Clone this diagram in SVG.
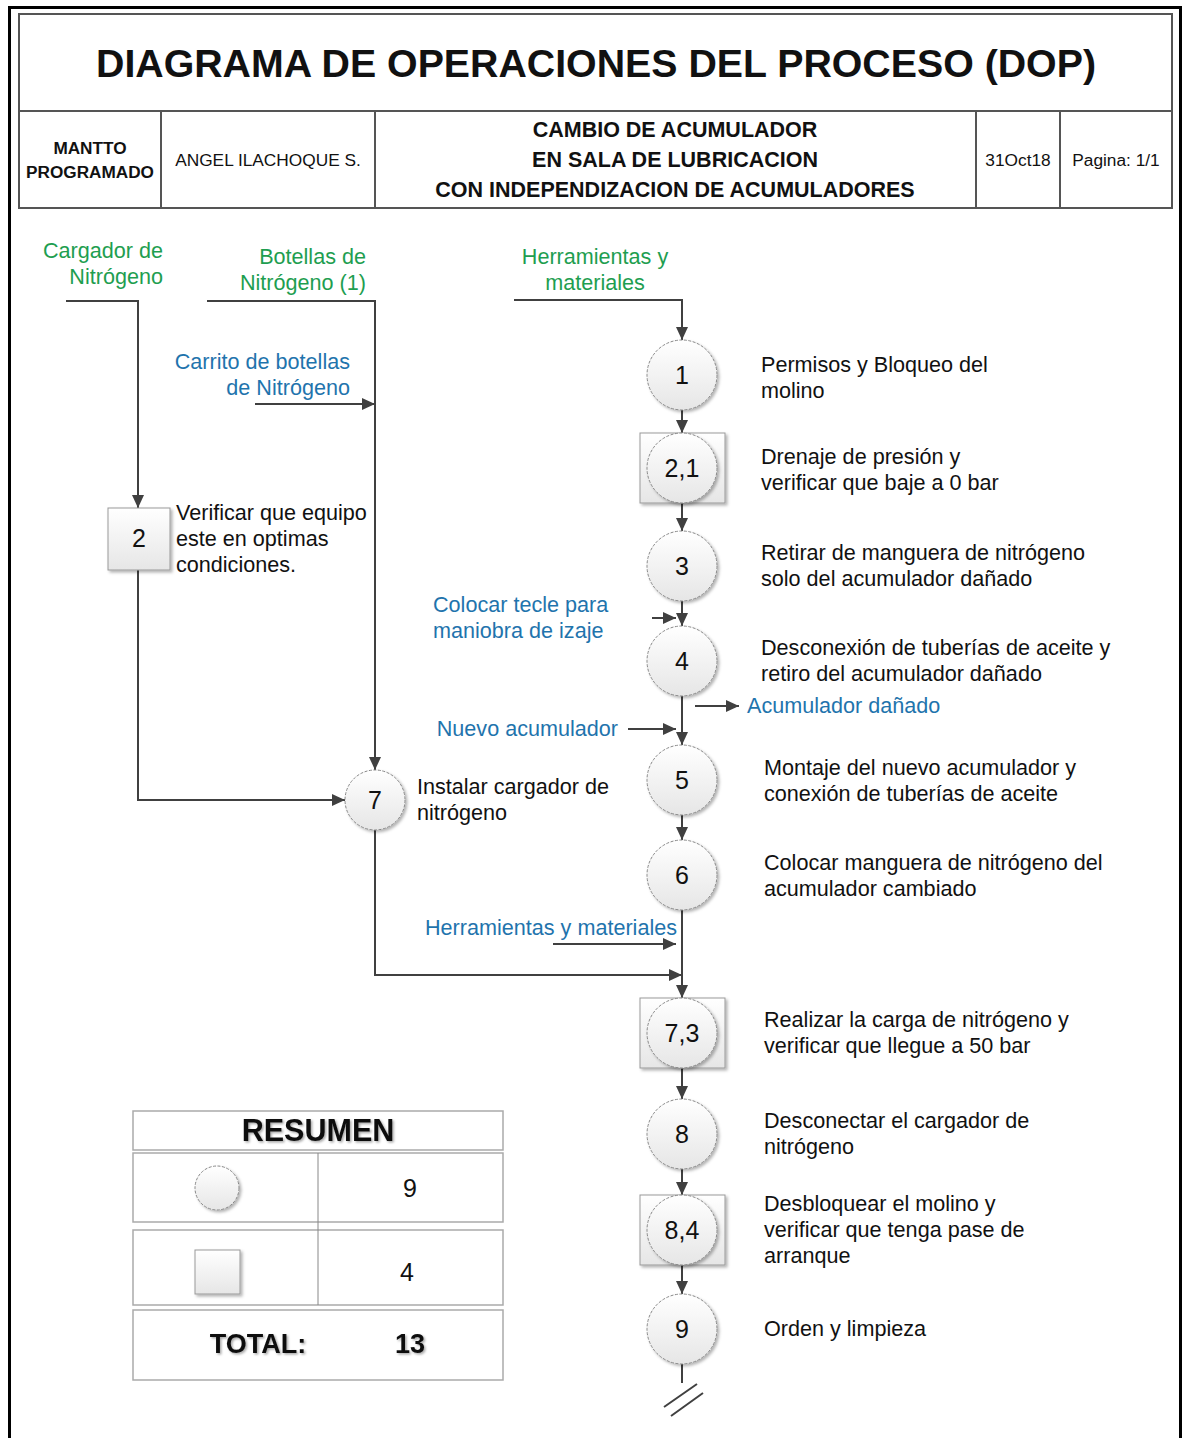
<svg xmlns="http://www.w3.org/2000/svg" width="1183" height="1438" viewBox="0 0 1183 1438">
  <style>
    text { font-family: "Liberation Sans", Arial, sans-serif; fill: #111; }
    .title { font-size: 39.3px; font-weight: bold; text-anchor: middle; }
    .hb { font-size: 17.2px; font-weight: bold; text-anchor: middle; }
    .hm { font-size: 21.5px; font-weight: bold; text-anchor: middle; }
    .hr { font-size: 17.3px; text-anchor: middle; }
    .desc { font-size: 21.6px; }
    .num { font-size: 25px; text-anchor: middle; }
    .green { font-size: 21.6px; fill: #1e9e50; }
    .blue { font-size: 21.6px; fill: #1f74ad; }
    .end { text-anchor: end; }
    .mid { text-anchor: middle; }
    .frame { fill: none; stroke: #555; stroke-width: 2; }
    .conn { fill: none; stroke: #404040; stroke-width: 2; }
    .arr { marker-end: url(#ah); }
    .op { fill: url(#g); stroke: #888; stroke-width: 1; stroke-dasharray: 3 1.5; filter: url(#sh); }
    .box { fill: url(#g); stroke: #999; stroke-width: 1; filter: url(#sh); }
    .cell { fill: #fff; stroke: #aaa; stroke-width: 1.5; }
    .sum { font-size: 30.5px; font-weight: bold; text-anchor: middle; filter: url(#ts); }
    .tot { font-size: 27px; font-weight: bold; text-anchor: middle; filter: url(#ts); }
    .cnt { font-size: 25px; text-anchor: middle; }
  </style>
  <defs>
    <linearGradient id="g" x1="0" y1="0" x2="0" y2="1">
      <stop offset="0" stop-color="#ffffff"/>
      <stop offset="1" stop-color="#e6e6e6"/>
    </linearGradient>
    <filter id="sh" x="-20%" y="-20%" width="150%" height="150%">
      <feDropShadow dx="2" dy="2" stdDeviation="1.5" flood-color="#000" flood-opacity="0.3"/>
    </filter>
    <filter id="ts" x="-10%" y="-20%" width="120%" height="150%">
      <feDropShadow dx="1.5" dy="1.5" stdDeviation="1" flood-color="#000" flood-opacity="0.35"/>
    </filter>
    <marker id="ah" markerUnits="userSpaceOnUse" markerWidth="14" markerHeight="12" refX="13" refY="6" orient="auto">
      <path d="M0,0 L13,6 L0,12 z" fill="#404040"/>
    </marker>
  </defs>

  <!-- page frame -->
  <path d="M9.5,1438 V7.5 H1180.5 V1438" fill="none" stroke="#000" stroke-width="3"/>

  <!-- header block -->
  <g id="header">
    <rect class="frame" x="19" y="14" width="1153" height="194"/>
    <line class="frame" x1="19" y1="111" x2="1172" y2="111"/>
    <line class="frame" x1="161" y1="111" x2="161" y2="208"/>
    <line class="frame" x1="375" y1="111" x2="375" y2="208"/>
    <line class="frame" x1="976" y1="111" x2="976" y2="208"/>
    <line class="frame" x1="1060" y1="111" x2="1060" y2="208"/>
    <text class="title" x="596" y="77">DIAGRAMA DE OPERACIONES DEL PROCESO (DOP)</text>
    <text class="hb" x="90" y="154">MANTTO</text>
    <text class="hb" x="90" y="178">PROGRAMADO</text>
    <text class="hr" x="268" y="166">ANGEL ILACHOQUE S.</text>
    <text class="hm" x="675" y="137">CAMBIO DE ACUMULADOR</text>
    <text class="hm" x="675" y="167">EN SALA DE LUBRICACION</text>
    <text class="hm" x="675" y="197">CON INDEPENDIZACION DE ACUMULADORES</text>
    <text class="hr" x="1018" y="166">31Oct18</text>
    <text class="hr" x="1116" y="166">Pagina: 1/1</text>
  </g>

  <!-- connectors -->
  <g id="connectors">
    <path class="conn arr" d="M66,301 H138 V508"/>
    <path class="conn arr" d="M138,570 V800 H345"/>
    <path class="conn arr" d="M207,301 H375 V770"/>
    <path class="conn arr" d="M255,404 H375"/>
    <path class="conn arr" d="M375,830 V975 H682"/>
    <path class="conn arr" d="M553,944 H676"/>
    <path class="conn arr" d="M514,300 H682 V340"/>
    <path class="conn arr" d="M682,410 V433"/>
    <path class="conn arr" d="M682,503 V531"/>
    <path class="conn arr" d="M682,601 V626"/>
    <path class="conn arr" d="M652,618 H676"/>
    <path class="conn arr" d="M682,696 V745"/>
    <path class="conn arr" d="M695,706 H739"/>
    <path class="conn arr" d="M628,729 H676"/>
    <path class="conn arr" d="M682,815 V840"/>
    <path class="conn arr" d="M682,910 V998"/>
    <path class="conn arr" d="M682,1068 V1099"/>
    <path class="conn arr" d="M682,1169 V1195"/>
    <path class="conn arr" d="M682,1265 V1294"/>
    <path class="conn" d="M682,1364 V1383"/>
    <path class="conn" d="M664,1407 L697,1384 M671,1416 L703,1393"/>
  </g>

  <!-- input / output labels -->
  <g id="labels">
    <text class="green end" x="163" y="258">Cargador de</text>
    <text class="green end" x="163" y="284">Nitrógeno</text>
    <text class="green end" x="366" y="264">Botellas de</text>
    <text class="green end" x="366" y="290">Nitrógeno (1)</text>
    <text class="green mid" x="595" y="264">Herramientas y</text>
    <text class="green mid" x="595" y="290">materiales</text>
    <text class="blue end" x="350" y="369">Carrito de botellas</text>
    <text class="blue end" x="350" y="395">de Nitrógeno</text>
    <text class="blue" x="433" y="612">Colocar tecle para</text>
    <text class="blue" x="433" y="638">maniobra de izaje</text>
    <text class="blue" x="747" y="713">Acumulador dañado</text>
    <text class="blue end" x="618" y="736">Nuevo acumulador</text>
    <text class="blue" x="425" y="935">Herramientas y materiales</text>
  </g>

  <!-- side branch -->
  <g id="node-2">
    <rect class="box" x="108" y="508" width="62" height="62"/>
    <text class="num" x="139" y="547">2</text>
    <text class="desc" x="176" y="520">Verificar que equipo</text>
    <text class="desc" x="176" y="546">este en optimas</text>
    <text class="desc" x="176" y="572">condiciones.</text>
  </g>
  <g id="node-7">
    <circle class="op" cx="375" cy="800" r="30"/>
    <text class="num" x="375" y="809">7</text>
    <text class="desc" x="417" y="794">Instalar cargador de</text>
    <text class="desc" x="417" y="820">nitrógeno</text>
  </g>

  <!-- main line -->
  <g id="node-1">
    <circle class="op" cx="682" cy="375" r="35"/>
    <text class="num" x="682" y="384">1</text>
    <text class="desc" x="761" y="372">Permisos y Bloqueo del</text>
    <text class="desc" x="761" y="398">molino</text>
  </g>
  <g id="node-2-1">
    <rect class="box" x="640" y="433" width="85" height="70"/>
    <circle class="op" cx="682" cy="468" r="35"/>
    <text class="num" x="682" y="477">2,1</text>
    <text class="desc" x="761" y="464">Drenaje de presión y</text>
    <text class="desc" x="761" y="490">verificar que baje a 0 bar</text>
  </g>
  <g id="node-3">
    <circle class="op" cx="682" cy="566" r="35"/>
    <text class="num" x="682" y="575">3</text>
    <text class="desc" x="761" y="560">Retirar de manguera de nitrógeno</text>
    <text class="desc" x="761" y="586">solo del acumulador dañado</text>
  </g>
  <g id="node-4">
    <circle class="op" cx="682" cy="661" r="35"/>
    <text class="num" x="682" y="670">4</text>
    <text class="desc" x="761" y="655">Desconexión de tuberías de aceite y</text>
    <text class="desc" x="761" y="681">retiro del acumulador dañado</text>
  </g>
  <g id="node-5">
    <circle class="op" cx="682" cy="780" r="35"/>
    <text class="num" x="682" y="789">5</text>
    <text class="desc" x="764" y="775">Montaje del nuevo acumulador y</text>
    <text class="desc" x="764" y="801">conexión de tuberías de aceite</text>
  </g>
  <g id="node-6">
    <circle class="op" cx="682" cy="875" r="35"/>
    <text class="num" x="682" y="884">6</text>
    <text class="desc" x="764" y="870">Colocar manguera de nitrógeno del</text>
    <text class="desc" x="764" y="896">acumulador cambiado</text>
  </g>
  <g id="node-7-3">
    <rect class="box" x="640" y="998" width="85" height="70"/>
    <circle class="op" cx="682" cy="1033" r="35"/>
    <text class="num" x="682" y="1042">7,3</text>
    <text class="desc" x="764" y="1027">Realizar la carga de nitrógeno y</text>
    <text class="desc" x="764" y="1053">verificar que llegue a 50 bar</text>
  </g>
  <g id="node-8">
    <circle class="op" cx="682" cy="1134" r="35"/>
    <text class="num" x="682" y="1143">8</text>
    <text class="desc" x="764" y="1128">Desconectar el cargador de</text>
    <text class="desc" x="764" y="1154">nitrógeno</text>
  </g>
  <g id="node-8-4">
    <rect class="box" x="640" y="1195" width="85" height="70"/>
    <circle class="op" cx="682" cy="1230" r="35"/>
    <text class="num" x="682" y="1239">8,4</text>
    <text class="desc" x="764" y="1211">Desbloquear el molino y</text>
    <text class="desc" x="764" y="1237">verificar que tenga pase de</text>
    <text class="desc" x="764" y="1263">arranque</text>
  </g>
  <g id="node-9">
    <circle class="op" cx="682" cy="1329" r="35"/>
    <text class="num" x="682" y="1338">9</text>
    <text class="desc" x="764" y="1336">Orden y limpieza</text>
  </g>

  <!-- summary table -->
  <g id="resumen">
    <rect class="cell" x="133" y="1111" width="370" height="39"/>
    <rect class="cell" x="133" y="1153" width="370" height="69"/>
    <rect class="cell" x="133" y="1230" width="370" height="75"/>
    <rect class="cell" x="133" y="1310" width="370" height="70"/>
    <line x1="318" y1="1153" x2="318" y2="1305" stroke="#888" stroke-width="1"/>
    <text class="sum" x="318" y="1141">RESUMEN</text>
    <circle class="op" cx="217" cy="1188" r="22"/>
    <text class="cnt" x="410" y="1197">9</text>
    <rect class="box" x="195" y="1250" width="45" height="44"/>
    <text class="cnt" x="407" y="1281">4</text>
    <text class="tot" x="258" y="1353">TOTAL:</text>
    <text class="tot" x="410" y="1353">13</text>
  </g>
</svg>
